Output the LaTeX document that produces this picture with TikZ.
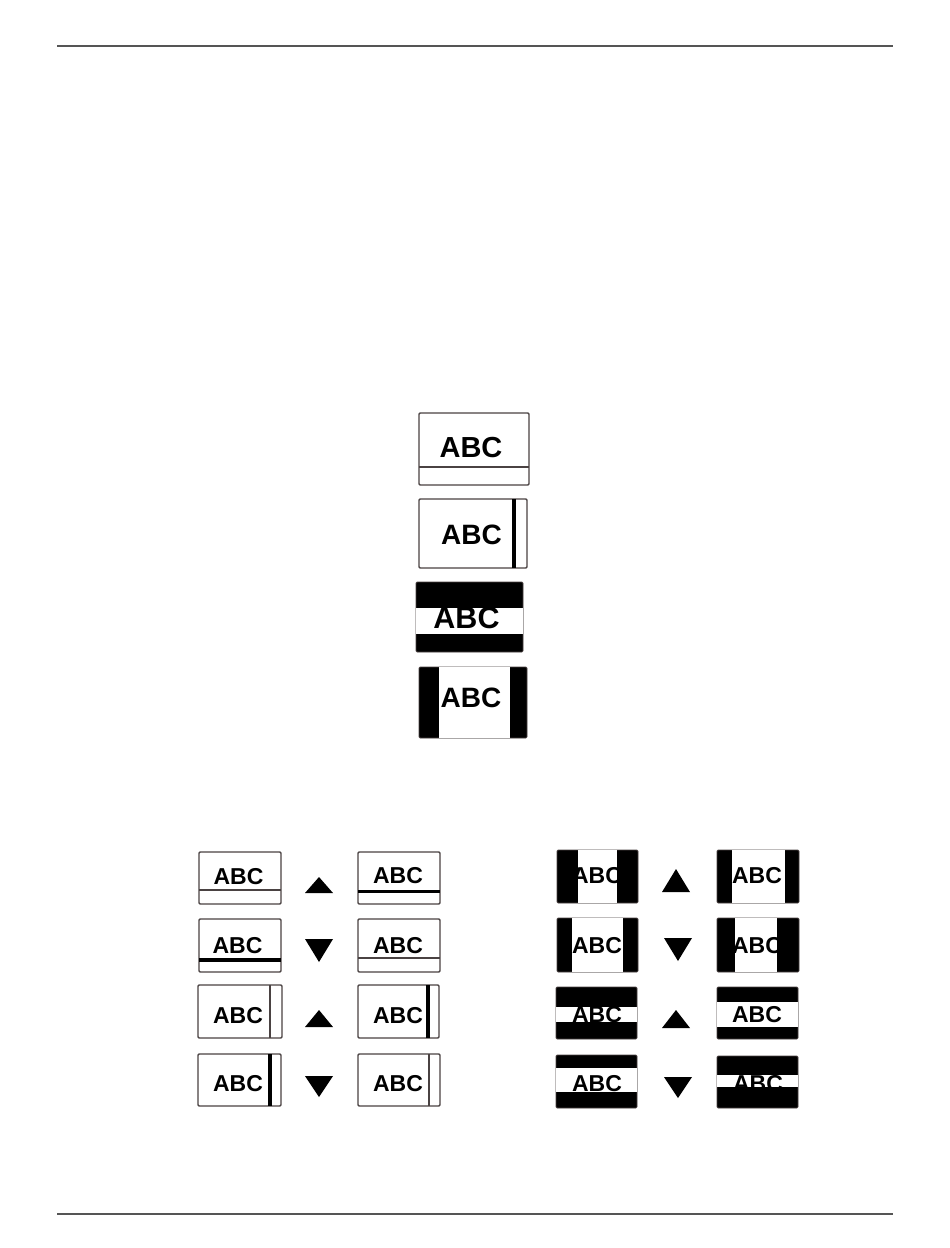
\documentclass[tikz,border=0pt]{standalone}
\usepackage{fontspec}
\setmainfont{Liberation Sans}
\definecolor{boxc}{HTML}{4A4242}
\definecolor{rulec}{HTML}{555555}
\begin{document}
\begin{tikzpicture}[x=1pt,y=-1pt,
  frame/.style={draw=boxc,line width=1.4,rounded corners=1.2,fill=white},
  thinln/.style={draw=boxc,line width=1.3},
  thickln/.style={draw=black,line width=3.2},
  blackbox/.style={fill=black,draw=boxc,line width=0.8,rounded corners=1.2},
  win/.style={fill=white},
  tri/.style={fill=black},
  big/.style={font=\fontsize{29}{29}\selectfont\bfseries,inner sep=0pt},
  small/.style={font=\fontsize{23}{23}\selectfont\bfseries,inner sep=0pt},
  rulel/.style={draw=rulec,line width=1.3}]
\useasboundingbox (0,0) rectangle (950,1248);
% header / footer rules
\coordinate (hl) at (57,46); \coordinate (hr) at (893,46);
\coordinate (fl) at (57,1214); \coordinate (fr) at (893,1214);
\draw[rulel] (hl) -- (hr);
\draw[rulel] (fl) -- (fr);

% ---------- large samples ----------
\draw[frame] (419,413) rectangle (529,485);
\draw[thinln] (419,467) -- (529,467);
\node[big] (t1) at (471,448) {ABC};

\draw[frame] (419,499) rectangle (527,568);
\draw[thickln,line width=3.8] (514,499) -- (514,568);
\node[big,font=\fontsize{28}{28}\selectfont\bfseries] (t2) at (471.5,535) {ABC};

\draw[blackbox] (416,582) rectangle (523,652);
\fill[win] (416,608) rectangle (523,634);
\node[big,font=\fontsize{30.5}{30.5}\selectfont\bfseries] (t3) at (466.5,618) {ABC};

\draw[blackbox] (419,667) rectangle (527,738);
\fill[win] (439,667) rectangle (510,738);
\node[big,font=\fontsize{28}{28}\selectfont\bfseries] (t4) at (471,698) {ABC};

% ---------- left group ----------
% row 1
\draw[frame] (199,852) rectangle (281,904);
\draw[thinln] (199,890) -- (281,890);
\node[small] (a1) at (238.5,876.5) {ABC};
\fill[tri] (305,893) -- (333,893) -- (319,877) -- cycle;
\draw[frame] (358,852) rectangle (440,904);
\draw[thickln] (358,891.5) -- (440,891.5);
\node[small] (b1) at (398,875.5) {ABC};
% row 2
\draw[frame] (199,919) rectangle (281,972);
\draw[thickln] (199,960) -- (281,960);
\node[small] (a2) at (237.5,945.5) {ABC};
\fill[tri] (305,939) -- (333,939) -- (319,962) -- cycle;
\draw[frame] (358,919) rectangle (440,972);
\draw[thinln] (358,958) -- (440,958);
\node[small] (b2) at (398,945.5) {ABC};
% row 3
\draw[frame] (198,985) rectangle (282,1038);
\draw[thinln] (270,985) -- (270,1038);
\node[small] (a3) at (238,1015.5) {ABC};
\fill[tri] (305,1027) -- (333,1027) -- (319,1010) -- cycle;
\draw[frame] (358,985) rectangle (439,1038);
\draw[thickln] (428,985) -- (428,1038);
\node[small] (b3) at (398,1015.5) {ABC};
% row 4
\draw[frame] (198,1054) rectangle (281,1106);
\draw[thickln] (270,1054) -- (270,1106);
\node[small] (a4) at (238,1083.5) {ABC};
\fill[tri] (305,1076) -- (333,1076) -- (319,1097) -- cycle;
\draw[frame] (358,1054) rectangle (440,1106);
\draw[thinln] (429,1054) -- (429,1106);
\node[small] (b4) at (398,1083.5) {ABC};

% ---------- right group ----------
% row 1
\draw[blackbox] (557,850) rectangle (638,903);
\fill[win] (578,850) rectangle (617,903);
\node[small] (c1) at (597,875.5) {ABC};
\fill[tri] (662,892) -- (690,892) -- (676,869) -- cycle;
\draw[blackbox] (717,850) rectangle (799,903);
\fill[win] (732,850) rectangle (785,903);
\node[small] (d1) at (757,875.5) {ABC};
% row 2
\draw[blackbox] (557,918) rectangle (638,972);
\fill[win] (572,918) rectangle (623,972);
\node[small] (c2) at (597,945.5) {ABC};
\fill[tri] (664,938) -- (692,938) -- (678,961) -- cycle;
\draw[blackbox] (717,918) rectangle (799,972);
\fill[win] (735,918) rectangle (777,972);
\node[small] (d2) at (757,945.5) {ABC};
% row 3
\draw[blackbox] (556,987) rectangle (637,1039);
\fill[win] (556,1007) rectangle (637,1022);
\node[small] (c3) at (597,1015) {ABC};
\fill[tri] (662,1028) -- (690,1028) -- (676,1010) -- cycle;
\draw[blackbox] (717,987) rectangle (798,1039);
\fill[win] (717,1002) rectangle (798,1027);
\node[small] (d3) at (757,1015) {ABC};
% row 4
\draw[blackbox] (556,1055) rectangle (637,1108);
\fill[win] (556,1068) rectangle (637,1092);
\node[small] (c4) at (597,1084) {ABC};
\fill[tri] (664,1077) -- (692,1077) -- (678,1098) -- cycle;
\draw[blackbox] (717,1056) rectangle (798,1108);
\fill[win] (717,1075) rectangle (798,1087);
\node[small] (d4) at (758,1084) {ABC};
\end{tikzpicture}
\end{document}
